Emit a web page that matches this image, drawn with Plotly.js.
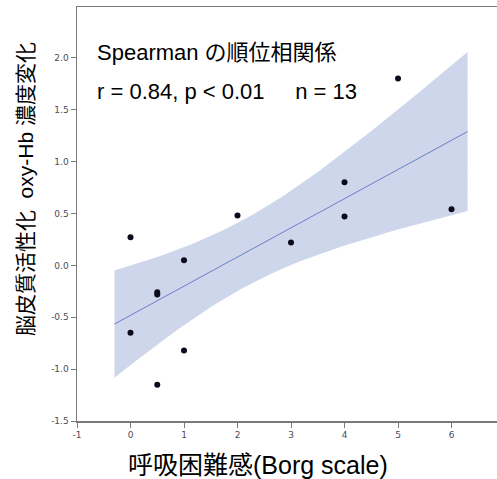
<!DOCTYPE html>
<html>
<head>
<meta charset="utf-8">
<script src="https://cdn.plot.ly/plotly-3.0.1.min.js"></script>
<style>html,body{margin:0;padding:0;background:#fff;}</style>
</head>
<body>
<div id="chart" style="width:497px;height:479px;"></div>
<script>
// Data: Borg scale (x) vs change in oxy-Hb (y), n = 13
const borgScale = [0, 0, 0.5, 0.5, 0.5, 1, 1, 2, 3, 4, 4, 5, 6];
const oxyHbChange = [0.27, -0.65, -0.26, -0.28, -1.15, 0.05, -0.82, 0.48, 0.22, 0.80, 0.47, 1.80, 0.54];
const xTickValues = [-1, 0, 1, 2, 3, 4, 5, 6];
const xTickLabels = ['-1', '0', '1', '2', '3', '4', '5', '6'];
const yTickValues = [-1.5, -1.0, -0.5, 0.0, 0.5, 1.0, 1.5, 2.0];
const yTickLabels = ['-1.5', '-1.0', '-0.5', '0.0', '0.5', '1.0', '1.5', '2.0'];
const statsLine1 = 'Spearman の順位相関係';
const statsLine2 = 'r = 0.84, p < 0.01\u00a0\u00a0\u00a0\u00a0\u00a0n = 13';
const xTitle = '呼吸困難感(Borg scale)';
const yTitle = '脳皮質活性化\u00a0\u00a0oxy-Hb 濃度変化';
const fitXMin = -0.3, fitXMax = 6.3;
const tCrit = 2.201; // t(0.975, df = 11)

// Ordinary least squares fit with 95% confidence band of the mean
const n = borgScale.length;
const mx = borgScale.reduce((a, b) => a + b, 0) / n;
const my = oxyHbChange.reduce((a, b) => a + b, 0) / n;
let sxx = 0, sxy = 0;
for (let i = 0; i < n; i++) { sxx += (borgScale[i] - mx) ** 2; sxy += (borgScale[i] - mx) * (oxyHbChange[i] - my); }
const slope = sxy / sxx, intercept = my - slope * mx;
let sse = 0;
for (let i = 0; i < n; i++) sse += (oxyHbChange[i] - (intercept + slope * borgScale[i])) ** 2;
const s = Math.sqrt(sse / (n - 2));
const steps = 60;
const gx = [], gy = [], up = [], lo = [];
for (let k = 0; k <= steps; k++) {
  const x = fitXMin + (fitXMax - fitXMin) * k / steps;
  const yh = intercept + slope * x;
  const h = tCrit * s * Math.sqrt(1 / n + (x - mx) ** 2 / sxx);
  gx.push(x); gy.push(yh); up.push(yh + h); lo.push(yh - h);
}
const bandX = gx.concat(gx.slice().reverse());
const bandY = up.concat(lo.slice().reverse());

const latin = 'Liberation Sans, Arial, Noto Sans CJK JP, sans-serif';
const traces = [
  { x: bandX, y: bandY, type: 'scatter', mode: 'lines', fill: 'toself',
    fillcolor: '#cdd6ea', line: { width: 0, color: 'rgba(0,0,0,0)' }, hoverinfo: 'skip', showlegend: false },
  { x: [gx[0], gx[gx.length - 1]], y: [gy[0], gy[gy.length - 1]], type: 'scatter', mode: 'lines',
    line: { color: '#6a80c6', width: 1 }, showlegend: false },
  { x: borgScale, y: oxyHbChange, type: 'scatter', mode: 'markers',
    marker: { color: '#0b0b1c', size: 6 }, showlegend: false }
];

const axisCommon = {
  showgrid: false, zeroline: false, showline: true, linecolor: '#7a7a7a', linewidth: 1.5,
  ticks: 'outside', ticklen: 5, tickwidth: 1, tickcolor: '#7a7a7a',
  tickfont: { family: 'DejaVu Sans, Verdana, sans-serif', size: 9, color: '#4a4a5a' }
};

const layout = {
  width: 497, height: 479,
  margin: { l: 77, r: 0, t: 7, b: 58 },
  paper_bgcolor: '#ffffff', plot_bgcolor: '#ffffff',
  showlegend: false,
  xaxis: Object.assign({}, axisCommon, { range: [-1, 6.85], tickvals: xTickValues, ticktext: xTickLabels, mirror: true }),
  yaxis: Object.assign({}, axisCommon, { range: [-1.5, 2.49], tickvals: yTickValues, ticktext: yTickLabels }),
  annotations: [
    { text: statsLine1, xref: 'paper', yref: 'paper', x: 0.043, y: 0.89, xanchor: 'left', yanchor: 'middle',
      showarrow: false, font: { family: latin, size: 22, color: '#000' } },
    { text: statsLine2, xref: 'paper', yref: 'paper', x: 0.043, y: 0.795, xanchor: 'left', yanchor: 'middle',
      showarrow: false, font: { family: latin, size: 22, color: '#000' } },
    { text: xTitle, xref: 'paper', yref: 'paper', x: 0.43, y: -0.106, xanchor: 'center', yanchor: 'middle',
      showarrow: false, font: { family: latin, size: 25, color: '#000' } },
    { text: yTitle, xref: 'paper', yref: 'paper', x: -0.124, y: 0.56, xanchor: 'center', yanchor: 'middle',
      textangle: -90, showarrow: false, font: { family: latin, size: 21, color: '#000' } }
  ]
};

Plotly.newPlot('chart', traces, layout, { staticPlot: true, displayModeBar: false });
</script>
</body>
</html>
